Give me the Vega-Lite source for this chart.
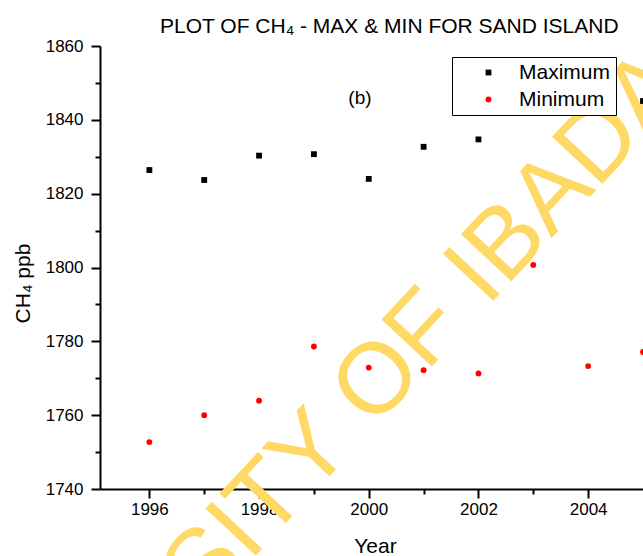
{
  "$schema": "https://vega.github.io/schema/vega-lite/v6.json",
  "width": 543,
  "height": 443,
  "autosize": {"type": "none"},
  "padding": {"left": 100, "top": 46, "right": 0, "bottom": 67},
  "background": "white",
  "title": {
    "text": "PLOT OF CH₄ - MAX & MIN FOR SAND ISLAND",
    "font": "Liberation Sans",
    "fontSize": 21,
    "fontWeight": "normal",
    "color": "black",
    "anchor": "start",
    "frame": "group",
    "dx": 60,
    "dy": 88,
    "offset": 14,
    "baseline": "alphabetic"
  },
  "config": {
    "view": {"stroke": null},
    "font": "Liberation Sans",
    "axis": {
      "grid": false,
      "domainColor": "black",
      "domainWidth": 2,
      "tickColor": "black",
      "tickWidth": 2,
      "labelColor": "black",
      "labelFont": "Liberation Sans",
      "labelFontSize": 17,
      "titleFont": "Liberation Sans",
      "titleFontSize": 21,
      "titleFontWeight": "normal",
      "titleColor": "black"
    },
    "legend": {
      "labelFont": "Liberation Sans",
      "labelFontSize": 21,
      "labelColor": "black"
    }
  },
  "datasets": {
    "pts": [
      {"year": 1996, "ppb": 1826.4, "series": "Maximum"},
      {"year": 1997, "ppb": 1823.7, "series": "Maximum"},
      {"year": 1998, "ppb": 1830.3, "series": "Maximum"},
      {"year": 1999, "ppb": 1830.7, "series": "Maximum"},
      {"year": 2000, "ppb": 1824.0, "series": "Maximum"},
      {"year": 2001, "ppb": 1832.7, "series": "Maximum"},
      {"year": 2002, "ppb": 1834.7, "series": "Maximum"},
      {"year": 2005, "ppb": 1845.1, "series": "Maximum"},
      {"year": 1996, "ppb": 1752.7, "series": "Minimum"},
      {"year": 1997, "ppb": 1760.0, "series": "Minimum"},
      {"year": 1998, "ppb": 1763.9, "series": "Minimum"},
      {"year": 1999, "ppb": 1778.6, "series": "Minimum"},
      {"year": 2000, "ppb": 1772.9, "series": "Minimum"},
      {"year": 2001, "ppb": 1772.2, "series": "Minimum"},
      {"year": 2002, "ppb": 1771.3, "series": "Minimum"},
      {"year": 2003, "ppb": 1800.7, "series": "Minimum"},
      {"year": 2004, "ppb": 1773.3, "series": "Minimum"},
      {"year": 2005, "ppb": 1777.1, "series": "Minimum"}
    ],
    "wm": [{"year": 1999.54, "ppb": 1747.5, "label": "UNIVERSITY OF IBADAN"}],
    "note": [{"year": 1999.84, "ppb": 1845.9, "label": "(b)"}]
  },
  "layer": [
    {
      "data": {"name": "wm"},
      "mark": {"type": "text", "font": "Liberation Sans", "fontSize": 100, "angle": -47, "align": "center", "baseline": "alphabetic", "color": "#FFD966"},
      "encoding": {
        "x": {"field": "year", "type": "quantitative", "scale": {"domain": [1995.1, 2005], "nice": false, "zero": false}, "axis": null},
        "y": {"field": "ppb", "type": "quantitative", "scale": {"domain": [1740, 1860], "nice": false, "zero": false}, "axis": null},
        "text": {"field": "label"}
      }
    },
    {
      "data": {"name": "pts"},
      "mark": {"type": "point", "filled": true, "size": 34, "opacity": 1},
      "encoding": {
        "x": {"field": "year", "type": "quantitative", "scale": {"domain": [1995.1, 2005], "nice": false, "zero": false},
          "axis": {"orient": "bottom", "values": [1996, 1998, 2000, 2002, 2004], "format": "d", "tickSize": 9, "labelPadding": 3, "title": "Year", "titleX": 275, "titleY": 63, "titleBaseline": "alphabetic"}},
        "y": {"field": "ppb", "type": "quantitative", "scale": {"domain": [1740, 1860], "nice": false, "zero": false},
          "axis": {"orient": "left", "values": [1740, 1760, 1780, 1800, 1820, 1840, 1860], "format": "d", "tickSize": 9, "labelPadding": 8, "title": "CH₄ ppb", "titleX": -71, "titleY": 237, "titleBaseline": "alphabetic"}},
        "color": {"field": "series", "type": "nominal", "scale": {"domain": ["Maximum", "Minimum"], "range": ["#000000", "#FF0000"]},
          "legend": {"title": null, "orient": "none", "legendX": 352, "legendY": 11, "strokeColor": "black", "fillColor": "white", "padding": 5, "rowPadding": 5, "symbolOffset": 21, "labelOffset": 20, "symbolSize": 34, "symbolOpacity": 1}},
        "shape": {"field": "series", "type": "nominal", "scale": {"domain": ["Maximum", "Minimum"], "range": ["square", "circle"]},
          "legend": {"title": null, "orient": "none", "legendX": 352, "legendY": 11, "strokeColor": "black", "fillColor": "white", "padding": 5, "rowPadding": 5, "symbolOffset": 21, "labelOffset": 20, "symbolSize": 34, "symbolOpacity": 1}}
      }
    },
    {
      "data": {"name": "note"},
      "mark": {"type": "text", "font": "Liberation Sans", "fontSize": 19, "align": "center", "baseline": "middle", "color": "black"},
      "encoding": {
        "x": {"field": "year", "type": "quantitative", "scale": {"domain": [1995.1, 2005], "nice": false, "zero": false},
          "axis": {"orient": "bottom", "values": [1997, 1999, 2001, 2003], "tickSize": 5, "labels": false, "domain": false, "title": null}},
        "y": {"field": "ppb", "type": "quantitative", "scale": {"domain": [1740, 1860], "nice": false, "zero": false},
          "axis": {"orient": "left", "values": [1750, 1770, 1790, 1810, 1830, 1850], "tickSize": 5, "labels": false, "domain": false, "title": null}},
        "text": {"field": "label"}
      }
    }
  ],
  "resolve": {"axis": {"x": "independent", "y": "independent"}}
}
